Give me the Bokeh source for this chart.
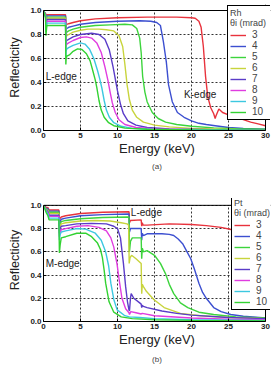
from bokeh.plotting import figure
from bokeh.layouts import column
from bokeh.models import (Range1d, Legend, LegendItem, Label, Title, FixedTicker,
                          PrintfTickFormatter, Span)
from bokeh.embed import file_html
from bokeh.resources import INLINE

# Glancing-angle labels (mrad) and x/y tick positions
ANGLES = ["3", "4", "5", "6", "7", "8", "9", "10"]
X_TICKS = [0, 5, 10, 15, 20, 25, 30]
Y_TICKS = [0.0, 0.2, 0.4, 0.6, 0.8, 1.0]
E_MAX = 30.0
R_MAX = 1.0

# ---- Rh mirror: energy (keV) and reflectivity per glancing angle ----
RH_E3 = [0.05, 0.28, 0.33, 0.45, 1.0, 2.0, 2.98, 3.02, 3.06, 3.15, 3.4, 4.0, 5.0, 7.0, 10.0, 14.0, 18.0, 20.0, 20.5, 21.0,
         21.3, 21.6, 21.9, 22.2, 22.6, 23.0, 23.2, 23.3, 23.7, 24.2, 25.0, 26.0, 27.0, 28.0, 29.0, 30.0]
RH_R3 = [0.99, 0.975, 0.94, 0.965, 0.965, 0.965, 0.965, 0.86, 0.88, 0.885, 0.89, 0.9, 0.915, 0.93, 0.94, 0.945, 0.945, 0.94, 0.935, 0.91,
         0.86, 0.7, 0.45, 0.28, 0.19, 0.14, 0.1, 0.12, 0.18, 0.15, 0.13, 0.11, 0.09, 0.07, 0.055, 0.04]

RH_E4 = [0.05, 0.28, 0.33, 0.45, 1.0, 2.0, 2.98, 3.02, 3.06, 3.15, 3.4, 4.0, 5.0, 7.0, 10.0, 13.0, 14.5, 15.3, 15.8, 16.2,
         16.6, 16.9, 17.4, 18.1, 19.0, 20.0, 21.0, 22.0, 23.2, 25.0, 27.0, 30.0]
RH_R4 = [0.99, 0.97, 0.92, 0.955, 0.955, 0.955, 0.955, 0.82, 0.845, 0.85, 0.86, 0.87, 0.885, 0.9, 0.91, 0.915, 0.91, 0.9, 0.875, 0.74,
         0.57, 0.38, 0.24, 0.15, 0.11, 0.08, 0.06, 0.05, 0.04, 0.025, 0.018, 0.01]

RH_E5 = [0.05, 0.28, 0.33, 0.45, 1.0, 2.0, 2.98, 3.02, 3.06, 3.15, 3.4, 4.0, 5.0, 7.0, 9.0, 11.0, 12.0, 12.6, 13.0, 13.2,
         13.4, 13.7, 14.0, 14.7, 15.5, 16.5, 18.0, 20.0, 23.0, 26.0, 30.0]
RH_R5 = [0.99, 0.965, 0.9, 0.945, 0.945, 0.945, 0.945, 0.78, 0.81, 0.82, 0.83, 0.845, 0.86, 0.875, 0.88, 0.885, 0.88, 0.85, 0.77, 0.65,
         0.45, 0.32, 0.24, 0.15, 0.1, 0.07, 0.05, 0.035, 0.022, 0.015, 0.01]

RH_E6 = [0.05, 0.28, 0.33, 0.45, 1.0, 2.0, 2.98, 3.02, 3.06, 3.15, 3.4, 4.0, 5.0, 6.0, 7.5, 8.5, 9.5, 10.2, 10.7, 11.0,
         11.3, 11.6, 12.0, 12.6, 13.5, 15.0, 17.0, 20.0, 23.2, 26.0, 30.0]
RH_R6 = [0.99, 0.96, 0.88, 0.935, 0.935, 0.935, 0.935, 0.74, 0.78, 0.79, 0.8, 0.82, 0.835, 0.845, 0.845, 0.84, 0.83, 0.79, 0.7, 0.55,
         0.38, 0.26, 0.17, 0.11, 0.07, 0.045, 0.03, 0.018, 0.012, 0.008, 0.005]

RH_E7 = [0.05, 0.28, 0.33, 0.45, 1.0, 2.0, 2.98, 3.02, 3.06, 3.15, 3.4, 4.0, 5.0, 6.5, 7.5, 8.3, 8.9, 9.4, 9.7, 10.0,
         10.4, 10.8, 11.4, 12.5, 14.0, 17.0, 23.2, 30.0]
RH_R7 = [0.99, 0.955, 0.86, 0.925, 0.925, 0.925, 0.925, 0.7, 0.74, 0.75, 0.76, 0.78, 0.8, 0.81, 0.8, 0.76, 0.67, 0.53, 0.43, 0.33,
         0.22, 0.14, 0.08, 0.045, 0.025, 0.012, 0.006, 0.003]

RH_E8 = [0.05, 0.28, 0.33, 0.45, 1.0, 2.0, 2.98, 3.02, 3.06, 3.15, 3.4, 4.0, 5.0, 5.8, 6.5, 7.2, 7.8, 8.3, 8.7, 9.0,
         9.3, 9.7, 10.2, 11.0, 12.5, 15.0, 20.0, 30.0]
RH_R8 = [0.99, 0.95, 0.84, 0.91, 0.91, 0.91, 0.91, 0.66, 0.71, 0.72, 0.73, 0.75, 0.775, 0.78, 0.77, 0.73, 0.65, 0.53, 0.42, 0.32,
         0.23, 0.15, 0.09, 0.05, 0.025, 0.012, 0.005, 0.002]

RH_E9 = [0.05, 0.28, 0.33, 0.45, 1.0, 2.0, 2.98, 3.02, 3.06, 3.15, 3.4, 4.0, 5.0, 5.6, 6.2, 6.8, 7.3, 7.6, 7.9, 8.2,
         8.5, 8.9, 9.5, 10.5, 12.0, 15.0, 30.0]
RH_R9 = [0.99, 0.945, 0.82, 0.895, 0.895, 0.895, 0.895, 0.61, 0.665, 0.68, 0.69, 0.71, 0.73, 0.72, 0.68, 0.6, 0.5, 0.43, 0.35, 0.25,
         0.17, 0.11, 0.065, 0.035, 0.018, 0.008, 0.002]

RH_E10 = [0.05, 0.28, 0.33, 0.45, 1.0, 2.0, 2.98, 3.02, 3.06, 3.15, 3.5, 4.0, 4.6, 5.2, 5.8, 6.3, 6.7, 7.0, 7.2, 7.5,
          7.8, 8.2, 8.8, 9.5, 11.0, 14.0, 20.0, 30.0]
RH_R10 = [0.99, 0.94, 0.79, 0.875, 0.875, 0.875, 0.875, 0.55, 0.6, 0.62, 0.63, 0.66, 0.68, 0.675, 0.64, 0.58, 0.49, 0.42, 0.36, 0.25,
          0.17, 0.11, 0.065, 0.04, 0.02, 0.01, 0.005, 0.002]

# ---- Pt mirror ----
PT_E3 = [0.05, 0.35, 0.6, 0.75, 1.5, 2.08, 2.15, 2.25, 2.4, 3.0, 5.0, 8.0, 11.5, 11.56, 11.62, 11.75, 13.2, 13.27, 13.35, 13.45,
         14.0, 17.0, 20.0, 22.0, 24.0, 25.5, 27.0, 30.0]
PT_R3 = [0.995, 0.985, 0.98, 0.96, 0.96, 0.96, 0.86, 0.89, 0.9, 0.91, 0.93, 0.94, 0.945, 0.945, 0.85, 0.87, 0.875, 0.82, 0.85, 0.83,
         0.83, 0.84, 0.835, 0.825, 0.81, 0.79, 0.77, 0.73]

PT_E4 = [0.05, 0.35, 0.6, 0.75, 1.5, 2.08, 2.15, 2.25, 2.4, 3.0, 5.0, 8.0, 11.5, 11.56, 11.62, 11.75, 13.2, 13.27, 13.35, 13.5,
         14.0, 16.0, 17.0, 17.6, 18.2, 18.8, 19.4, 19.9, 20.4, 21.0, 21.5, 22.0, 23.0, 24.0, 25.3, 27.0, 30.0]
PT_R4 = [0.995, 0.975, 0.97, 0.95, 0.95, 0.95, 0.83, 0.86, 0.88, 0.89, 0.91, 0.92, 0.925, 0.925, 0.77, 0.8, 0.8, 0.7, 0.76, 0.74,
         0.755, 0.755, 0.75, 0.74, 0.71, 0.67, 0.6, 0.54, 0.45, 0.33, 0.25, 0.2, 0.12, 0.085, 0.06, 0.045, 0.03]

PT_E5 = [0.05, 0.35, 0.6, 0.75, 1.5, 2.08, 2.15, 2.25, 2.4, 3.0, 5.0, 8.0, 11.5, 11.56, 11.62, 11.75, 12.0, 13.2, 13.27, 13.35,
         13.5, 14.0, 15.0, 15.8, 16.5, 17.0, 17.6, 18.5, 19.5, 21.0, 23.0, 26.0, 30.0]
PT_R5 = [0.995, 0.97, 0.96, 0.94, 0.94, 0.94, 0.8, 0.84, 0.86, 0.87, 0.885, 0.895, 0.9, 0.9, 0.6, 0.69, 0.72, 0.72, 0.54, 0.63,
         0.6, 0.61, 0.57, 0.5, 0.41, 0.32, 0.24, 0.16, 0.12, 0.08, 0.06, 0.04, 0.03]

PT_E6 = [0.05, 0.35, 0.6, 0.75, 1.5, 2.08, 2.15, 2.25, 2.4, 3.0, 5.0, 7.0, 9.0, 10.5, 11.3, 11.5, 11.58, 11.7, 11.9, 12.5,
         13.2, 13.27, 13.35, 13.5, 13.9, 14.9, 16.3, 18.5, 21.2, 25.0, 30.0]
PT_R6 = [0.995, 0.965, 0.955, 0.93, 0.93, 0.93, 0.78, 0.82, 0.84, 0.85, 0.865, 0.87, 0.865, 0.85, 0.84, 0.83, 0.5, 0.55, 0.57, 0.54,
         0.5, 0.24, 0.32, 0.3, 0.26, 0.19, 0.12, 0.07, 0.05, 0.035, 0.025]

PT_E7 = [0.05, 0.35, 0.6, 0.75, 1.5, 2.08, 2.15, 2.25, 2.4, 3.0, 4.5, 6.5, 8.5, 9.5, 10.0, 10.4, 10.8, 11.1, 11.35, 11.55,
         11.62, 11.75, 11.85, 12.2, 13.0, 13.2, 13.27, 13.35, 13.5, 14.0, 16.0, 18.0, 20.0, 25.0, 30.0]
PT_R7 = [0.995, 0.96, 0.945, 0.915, 0.915, 0.915, 0.76, 0.8, 0.82, 0.825, 0.84, 0.845, 0.84, 0.82, 0.8, 0.72, 0.5, 0.3, 0.17, 0.1,
         0.09, 0.2, 0.24, 0.2, 0.16, 0.15, 0.12, 0.14, 0.13, 0.12, 0.09, 0.07, 0.055, 0.035, 0.025]

PT_E8 = [0.05, 0.35, 0.6, 0.75, 1.5, 2.08, 2.15, 2.25, 2.4, 3.0, 4.5, 6.0, 7.5, 8.5, 9.1, 9.5, 9.95, 10.2, 10.6, 11.1,
         11.55, 11.62, 11.8, 12.5, 13.2, 13.35, 15.0, 20.0, 25.0, 30.0]
PT_R8 = [0.995, 0.955, 0.935, 0.905, 0.905, 0.905, 0.73, 0.77, 0.79, 0.8, 0.82, 0.825, 0.81, 0.78, 0.72, 0.64, 0.49, 0.37, 0.2, 0.11,
         0.075, 0.06, 0.085, 0.075, 0.065, 0.07, 0.05, 0.03, 0.02, 0.015]

PT_E9 = [0.05, 0.35, 0.6, 0.75, 1.5, 2.08, 2.15, 2.25, 2.4, 3.0, 4.5, 5.7, 7.0, 7.8, 8.4, 8.8, 9.1, 9.5, 9.95, 11.0,
         11.6, 13.0, 15.0, 20.0, 30.0]
PT_R9 = [0.995, 0.95, 0.925, 0.89, 0.89, 0.89, 0.7, 0.75, 0.77, 0.78, 0.8, 0.795, 0.76, 0.7, 0.6, 0.48, 0.33, 0.19, 0.1, 0.05,
         0.04, 0.035, 0.025, 0.015, 0.008]

PT_E10 = [0.05, 0.35, 0.6, 0.75, 1.5, 2.08, 2.15, 2.25, 2.4, 3.0, 4.5, 5.7, 6.5, 7.3, 7.7, 7.96, 8.2, 8.4, 8.86, 9.5,
          10.5, 12.0, 15.0, 20.0, 30.0]
PT_R10 = [0.995, 0.94, 0.91, 0.875, 0.875, 0.875, 0.59, 0.66, 0.72, 0.73, 0.76, 0.76, 0.73, 0.675, 0.62, 0.55, 0.44, 0.33, 0.17, 0.08,
          0.04, 0.025, 0.015, 0.01, 0.005]

RH_SERIES = [(RH_E3, RH_R3), (RH_E4, RH_R4), (RH_E5, RH_R5), (RH_E6, RH_R6),
             (RH_E7, RH_R7), (RH_E8, RH_R8), (RH_E9, RH_R9), (RH_E10, RH_R10)]
PT_SERIES = [(PT_E3, PT_R3), (PT_E4, PT_R4), (PT_E5, PT_R5), (PT_E6, PT_R6),
             (PT_E7, PT_R7), (PT_E8, PT_R8), (PT_E9, PT_R9), (PT_E10, PT_R10)]

COLORS = ["#e8323c", "#3c4fd0", "#3cd43c", "#c8d43c", "#5a3cc8", "#e03ce0", "#3cc8e0", "#32d232"]
GRID_COLOR = "#333333"
FONT = "Liberation Sans"

# Frame geometry: 43 px left border, 222 px for 0..30 keV; the frame reaches a few px
# beyond 30 keV and above 1.0 so the legend box can hang over the plot box corner.
FRAME_LEFT = 43
PX_PER_KEV = 222 / E_MAX
FRAME_W = 227


def make_panel(element, series, notes, caption, height, border_top, border_bottom,
               px_per_unit, head_px, legend_xy, caption_gap):
    x_end = FRAME_W / PX_PER_KEV
    y_end = R_MAX + head_px / px_per_unit
    p = figure(width=279, height=height, x_range=Range1d(0, x_end), y_range=Range1d(0, y_end),
               output_backend="svg", toolbar_location=None,
               min_border_left=FRAME_LEFT, min_border_right=279 - FRAME_LEFT - FRAME_W,
               min_border_top=border_top, min_border_bottom=border_bottom)
    p.outline_line_color = None
    p.background_fill_color = "white"

    p.xaxis.ticker = FixedTicker(ticks=X_TICKS)
    p.yaxis.ticker = FixedTicker(ticks=Y_TICKS)
    p.yaxis.formatter = PrintfTickFormatter(format="%.1f")
    p.xaxis.bounds = (0, E_MAX)
    p.yaxis.bounds = (0, R_MAX)
    for ax in (p.xaxis, p.yaxis):
        ax.axis_line_color = "black"
        ax.major_tick_in = 3
        ax.major_tick_out = 0
        ax.minor_tick_line_color = None
        ax.major_label_text_font = FONT
        ax.major_label_text_font_size = "8px"
        ax.major_label_text_font_style = "bold"
        ax.major_label_text_color = "#222222"
        ax.major_label_standoff = 2
        ax.axis_label_text_font = FONT
        ax.axis_label_text_font_style = "normal"
        ax.axis_label_text_color = "#222222"
    p.xaxis.axis_label = "Energy (keV)"
    p.xaxis.axis_label_text_font_size = "13px"
    p.xaxis.axis_label_standoff = 0
    p.yaxis.axis_label = "Reflecticity"
    p.yaxis.axis_label_text_font_size = "12.5px"
    p.yaxis.axis_label_standoff = 5

    # horizontal grid from the axis; vertical grid lines stop at 1.0
    p.ygrid.grid_line_color = GRID_COLOR
    p.ygrid.grid_line_dash = "2 2"
    p.xgrid.visible = False
    n = len(X_TICKS)
    p.segment(x0=X_TICKS, y0=[0.0] * n, x1=X_TICKS, y1=[R_MAX] * n,
              line_color=GRID_COLOR, line_dash="2 2", line_width=1, level="underlay")

    # closing edges of the plot box at 1.0 and at 30 keV
    p.add_layout(Span(location=R_MAX, dimension="width", line_color="black", line_width=1))
    p.add_layout(Span(location=E_MAX, dimension="height", line_color="black", line_width=1))

    items = []
    for label, color, (e, r) in zip(ANGLES, COLORS, series):
        line = p.line(e, r, line_color=color, line_width=1.4)
        items.append(LegendItem(label=label, renderers=[line]))

    legend = Legend(items=items, location=legend_xy, title=element + "\nθi (mrad)",
                    border_line_color="black", border_line_width=1, border_line_alpha=1.0,
                    background_fill_color="white", background_fill_alpha=1.0,
                    padding=2, margin=0, spacing=0,
                    glyph_width=16, glyph_height=10, label_height=10, label_standoff=6,
                    label_text_font=FONT, label_text_font_size="10px",
                    title_text_font=FONT, title_text_font_size="9px",
                    title_text_font_style="normal", title_standoff=1)
    p.add_layout(legend)

    for x, y, text in notes:
        p.add_layout(Label(x=x, y=y, text=text, text_font=FONT, text_font_size="10px",
                           text_baseline="middle", text_color="#222222"))

    p.add_layout(Title(text=caption, align="center", text_font=FONT, text_font_size="8px",
                       text_font_style="normal", standoff=caption_gap), "below")
    return p


top = make_panel("Rh", RH_SERIES, [(0.3, 0.45, "L-edge"), (19.0, 0.3, "K-edge")],
                 "(a)", 178, 4, 48, 120, 6, (184, 10), 2)
bottom = make_panel("Pt", PT_SERIES, [(0.3, 0.5, "M-edge"), (11.8, 0.94, "L-edge")],
                    "(b)", 188, 20, 42, 119, 7, (188, 11), 6)

layout = column(top, bottom, spacing=0)
open("out.html", "w").write(file_html(layout, INLINE))
